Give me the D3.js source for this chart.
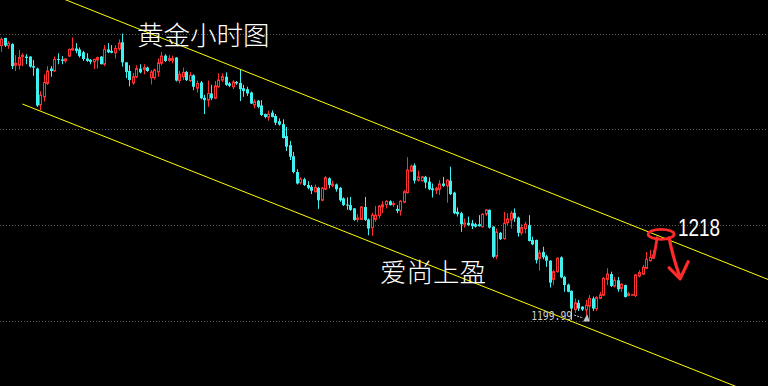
<!DOCTYPE html>
<html>
<head>
<meta charset="utf-8">
<script src="https://cdnjs.cloudflare.com/ajax/libs/d3/7.8.5/d3.min.js"></script>
<style>
  html, body { margin: 0; padding: 0; background: #000; }
  svg { display: block; }
</style>
</head>
<body>
<div id="chart"></div>
<script>
// hourly gold candles
var opens = [
  1257.5,1259.1,1257.5,1257.8,1253.4,1253.4,1255.2,1255.2,1255.2,1253.2,
  1252.7,1245.1,1246.8,1249.6,1252.7,1252.2,1254.7,1254.6,1254.3,1255.3,
  1256.6,1256.9,1256.7,1256.1,1254.8,1254.5,1254.1,1254.5,1255.2,1253.6,
  1256.7,1256.4,1256.0,1256.8,1258.2,1254.0,1252.2,1249.7,1251.0,1252.7,
  1252.5,1252.9,1250.8,1250.8,1252.0,1253.8,1255.4,1254.4,1254.4,1255.0,
  1250.2,1251.0,1252.0,1250.2,1251.3,1248.6,1249.8,1246.6,1246.1,1247.5,
  1246.5,1248.9,1250.3,1251.0,1249.6,1248.9,1249.9,1249.7,1248.6,1248.4,
  1247.7,1245.1,1246.0,1245.0,1243.2,1242.6,1243.5,1242.8,1241.7,1241.1,
  1238.6,1236.7,1234.4,1231.1,1228.9,1229.6,1228.4,1228.0,1227.0,1227.8,
  1225.2,1227.5,1229.8,1228.3,1228.5,1227.8,1225.6,1224.3,1224.2,1223.5,
  1221.2,1221.2,1223.8,1221.2,1219.5,1221.2,1222.0,1223.8,1224.3,1225.0,
  1224.3,1223.4,1223.0,1224.8,1226.8,1231.3,1232.5,1229.4,1229.3,1230.1,
  1229.1,1227.7,1227.3,1227.5,1228.7,1228.2,1229.3,1226.8,1222.8,1222.5,
  1220.2,1220.5,1220.4,1220.2,1220.2,1219.7,1222.3,1223.2,1219.7,1213.5,
  1218.4,1217.2,1220.5,1221.1,1222.6,1221.6,1218.4,1219.3,1220.0,1216.9,
  1216.9,1213.1,1214.4,1213.5,1212.6,1208.7,1210.3,1213.3,1209.2,1207.6,
  1206.3,1202.4,1203.8,1203.0,1202.3,1203.1,1204.7,1202.6,1204.7,1205.4,
  1208.7,1209.8,1207.3,1208.5,1206.8,1207.5,1205.3,1205.4,1205.3,1209.4,
  1209.8,1211.0,1212.6,1213.1
];
var highs = [
  1259.2,1259.1,1258.4,1258.0,1255.5,1256.6,1255.9,1255.7,1255.3,1254.5,
  1252.9,1248.0,1251.5,1253.2,1253.2,1255.2,1255.9,1255.3,1254.9,1256.9,
  1259.2,1258.0,1257.1,1256.4,1255.9,1254.7,1254.8,1255.2,1255.3,1257.6,
  1258.0,1257.6,1257.6,1258.8,1260.0,1254.0,1253.4,1251.8,1253.4,1253.6,
  1253.6,1253.1,1252.4,1252.7,1254.8,1256.2,1255.7,1255.5,1255.4,1255.1,
  1252.2,1252.9,1252.2,1252.0,1251.5,1250.2,1250.1,1247.2,1250.2,1249.3,
  1250.1,1251.7,1251.7,1251.9,1249.9,1250.3,1250.1,1252.4,1249.3,1248.9,
  1247.9,1246.3,1246.1,1246.1,1243.3,1243.9,1244.0,1243.2,1242.3,1242.1,
  1240.5,1237.6,1235.3,1231.7,1230.0,1229.9,1229.2,1228.4,1228.5,1228.0,
  1228.0,1230.3,1230.0,1229.3,1228.7,1228.0,1225.8,1225.8,1225.9,1223.6,
  1222.3,1224.0,1225.9,1221.4,1222.6,1224.0,1224.2,1225.0,1225.2,1225.2,
  1225.0,1224.2,1225.2,1227.3,1234.2,1232.7,1232.9,1231.4,1230.3,1230.3,
  1230.0,1228.7,1228.0,1229.4,1230.1,1229.6,1232.2,1227.0,1223.7,1222.8,
  1221.4,1221.8,1221.1,1220.5,1222.1,1222.5,1223.3,1223.3,1219.8,1219.3,
  1218.6,1222.8,1222.5,1223.0,1223.5,1221.8,1220.2,1220.7,1222.1,1217.6,
  1217.0,1214.8,1215.5,1213.8,1212.7,1210.6,1213.3,1213.5,1209.4,1207.8,
  1206.4,1204.7,1204.4,1203.1,1204.4,1205.4,1205.1,1205.2,1206.1,1209.2,
  1211.0,1210.3,1209.2,1209.2,1207.8,1207.6,1206.1,1205.6,1209.8,1210.6,
  1211.7,1214.4,1214.8,1214.8
];
var lows = [
  1256.2,1257.2,1256.8,1252.6,1252.2,1252.5,1253.2,1253.6,1252.9,1251.2,
  1244.7,1244.0,1245.8,1249.3,1251.0,1252.0,1253.6,1253.6,1253.9,1255.2,
  1256.4,1255.9,1255.0,1254.3,1254.1,1253.6,1252.6,1252.7,1253.6,1253.2,
  1255.9,1255.9,1254.8,1256.4,1253.1,1250.7,1249.0,1249.3,1250.7,1251.7,
  1251.5,1252.0,1249.4,1250.4,1251.0,1253.4,1254.1,1254.1,1253.8,1250.0,
  1249.6,1250.3,1250.1,1249.9,1248.2,1247.7,1246.3,1243.2,1244.7,1246.1,
  1246.3,1248.7,1249.9,1249.1,1248.8,1248.4,1249.3,1245.9,1246.8,1247.0,
  1245.3,1244.4,1244.4,1242.8,1242.3,1241.8,1242.5,1240.9,1240.8,1238.1,
  1235.5,1233.6,1230.8,1228.5,1228.5,1228.2,1227.5,1226.5,1226.8,1223.4,
  1225.0,1227.3,1227.7,1227.9,1227.0,1224.9,1224.0,1223.2,1223.0,1220.9,
  1220.6,1221.1,1220.9,1217.9,1217.8,1220.7,1221.4,1222.5,1223.5,1224.1,
  1223.8,1222.5,1222.0,1224.6,1226.6,1231.1,1228.7,1229.1,1229.1,1227.7,
  1227.3,1225.8,1226.5,1226.3,1228.0,1224.7,1226.3,1222.3,1221.8,1218.6,
  1219.5,1219.8,1219.2,1219.5,1219.7,1219.5,1221.9,1219.3,1213.1,1212.9,
  1216.9,1217.0,1220.0,1219.3,1220.7,1217.6,1217.9,1218.3,1216.6,1215.8,
  1212.0,1210.5,1212.9,1211.3,1207.0,1207.5,1210.1,1208.9,1206.1,1206.0,
  1200.2,1201.7,1202.1,1202.1,1201.2,1199.99,1202.1,1202.1,1204.6,1205.2,
  1207.5,1207.1,1207.0,1206.1,1206.1,1204.9,1205.2,1205.3,1205.0,1209.1,
  1209.6,1210.8,1212.4,1212.9
];
var closes = [
  1258.8,1257.5,1258.0,1253.2,1253.8,1255.0,1255.5,1254.9,1253.1,1252.9,
  1245.0,1247.2,1249.8,1252.2,1252.2,1254.6,1254.5,1254.3,1254.7,1256.7,
  1256.9,1256.4,1255.3,1254.7,1254.3,1254.1,1254.6,1255.0,1253.6,1256.7,
  1256.1,1256.0,1256.9,1258.0,1254.0,1252.0,1250.3,1251.0,1252.7,1251.9,
  1252.9,1252.2,1252.0,1252.4,1253.9,1255.3,1254.3,1254.8,1254.8,1250.2,
  1251.5,1251.9,1250.3,1251.3,1248.9,1249.6,1246.5,1246.1,1247.5,1246.5,
  1249.1,1250.3,1251.0,1249.3,1249.1,1249.9,1249.6,1248.4,1248.0,1247.5,
  1245.4,1245.8,1244.7,1243.0,1242.6,1243.2,1242.6,1241.4,1241.0,1238.2,
  1236.4,1234.3,1231.1,1228.7,1229.6,1228.4,1227.8,1227.2,1227.9,1225.2,
  1227.7,1229.9,1228.4,1228.6,1227.5,1225.2,1224.2,1224.1,1223.2,1221.1,
  1221.5,1223.8,1221.1,1219.3,1222.1,1222.1,1224.0,1224.3,1225.0,1224.2,
  1224.5,1223.0,1225.0,1227.0,1231.5,1232.3,1229.3,1230.1,1230.1,1228.9,
  1227.5,1227.3,1227.7,1228.6,1228.2,1229.4,1226.5,1222.5,1222.3,1220.2,
  1220.5,1220.0,1219.8,1219.7,1219.8,1222.3,1223.2,1219.5,1213.4,1218.6,
  1217.1,1220.4,1221.3,1222.5,1221.4,1218.4,1219.5,1220.2,1216.7,1216.0,
  1212.7,1214.2,1213.3,1212.6,1208.0,1210.3,1213.1,1209.1,1207.5,1206.1,
  1202.6,1203.8,1202.6,1202.4,1203.3,1204.7,1202.6,1204.9,1205.5,1208.9,
  1209.8,1207.3,1208.5,1206.6,1207.7,1205.0,1205.7,1205.5,1209.6,1210.1,
  1211.2,1212.9,1213.3,1213.8
];

var gridPrices = [1200, 1220, 1240, 1260];

// channel lines as [candle index, price] anchors
var upperLine = [[20, 1266.5], [180, 1219.1]];
var lowerLine = [[6, 1245.3], [170, 1197.0]];

var chartTitle = '黄金小时图';
var signature  = '爱尚上盈';
var targetText = '1218';
var lowText    = '1199.99';

var width  = 768,
    height = 386;

var candles = opens.map(function(o, i){
    return { i: i, open: o, high: highs[i], low: lows[i], close: closes[i] };
});

var x = d3.scaleLinear().domain([0, candles.length - 1]).range([1, 653.3]);
var y = d3.scaleLinear().domain([1200, 1260]).range([321, 33.6]);

var upColor   = '#ff3030',
    downColor = '#3ff2f2';

var svg = d3.select('#chart').append('svg')
    .attr('width', width)
    .attr('height', height);

svg.append('rect')
    .attr('width', width)
    .attr('height', height)
    .attr('fill', '#000');

// dotted price grid
svg.selectAll('line.grid')
    .data(gridPrices)
    .enter().append('line')
    .attr('class', 'grid')
    .attr('x1', 0)
    .attr('x2', width)
    .attr('y1', function(d){ return Math.round(y(d)) + 0.5; })
    .attr('y2', function(d){ return Math.round(y(d)) + 0.5; })
    .attr('stroke', '#5a5a5a')
    .attr('stroke-dasharray', '1,2');

// candles
var cx = function(d){ return Math.round(x(d.i)) + 0.5; };

var g = svg.append('g').attr('class', 'candles');

g.selectAll('line.wick')
    .data(candles)
    .enter().append('line')
    .attr('class', 'wick')
    .attr('x1', cx)
    .attr('x2', cx)
    .attr('y1', function(d){ return y(d.high); })
    .attr('y2', function(d){ return y(d.low); })
    .attr('stroke', function(d){ return d.close >= d.open ? upColor : downColor; })
    .attr('stroke-width', 1);

// bearish bodies: filled cyan
g.selectAll('rect.down')
    .data(candles.filter(function(d){ return d.close < d.open; }))
    .enter().append('rect')
    .attr('class', 'down')
    .attr('x', function(d){ return cx(d) - 1.5; })
    .attr('width', 3)
    .attr('y', function(d){ return y(d.open); })
    .attr('height', function(d){ return Math.max(1, y(d.close) - y(d.open)); })
    .attr('fill', downColor);

// bullish bodies: red outline, black inside
g.selectAll('rect.up')
    .data(candles.filter(function(d){ return d.close >= d.open; }))
    .enter().append('rect')
    .attr('class', 'up')
    .attr('x', function(d){ return cx(d) - 1; })
    .attr('width', 2)
    .attr('y', function(d){ return y(d.close); })
    .attr('height', function(d){ return Math.max(0.5, y(d.open) - y(d.close)); })
    .attr('fill', '#000')
    .attr('stroke', upColor)
    .attr('stroke-width', 1);

// channel lines, stretched past the edges
function channel(pts, fromIdx, toIdx){
    var slope = (pts[1][1] - pts[0][1]) / (pts[1][0] - pts[0][0]);
    var p = function(i){ return pts[0][1] + slope * (i - pts[0][0]); };
    svg.append('line')
        .attr('x1', x(fromIdx)).attr('y1', y(p(fromIdx)))
        .attr('x2', x(toIdx)).attr('y2', y(p(toIdx)))
        .attr('stroke', '#ffff00')
        .attr('stroke-width', 1);
}
channel(upperLine, -20, 230);
channel(lowerLine, 6, 230);

// low marker
var lowIdx = d3.minIndex(lows);
var lx = x(lowIdx), ly = y(lows[lowIdx]);

svg.append('text')
    .attr('x', lx - 58)
    .attr('y', ly - 1.5)
    .attr('fill', '#cfcfcf')
    .attr('font-family', 'DejaVu Sans Mono, monospace')
    .attr('font-size', 13)
    .attr('textLength', 41)
    .attr('lengthAdjust', 'spacingAndGlyphs')
    .text(lowText);

svg.append('line')
    .attr('x1', lx - 15).attr('y1', ly - 6)
    .attr('x2', lx - 6).attr('y2', ly - 3)
    .attr('stroke', '#c4c4c4')
    .attr('stroke-dasharray', '2,1');

svg.append('path')
    .attr('d', 'M' + (lx - 6) + ',' + (ly + 0.5) + 'L' + (lx - 2) + ',' + (ly - 7) + 'L' + (lx + 0.5) + ',' + (ly + 0.5) + 'Z')
    .attr('fill', '#c4c4c4');

// titles
svg.append('text')
    .attr('x', 137)
    .attr('y', 44.5)
    .attr('fill', '#ffffff')
    .attr('font-family', 'Noto Sans CJK SC, sans-serif')
    .attr('font-weight', 300)
    .attr('font-size', 26.5)
    .text(chartTitle);

svg.append('text')
    .attr('x', 380)
    .attr('y', 281.5)
    .attr('fill', '#ffffff')
    .attr('font-family', 'Noto Sans CJK SC, sans-serif')
    .attr('font-weight', 300)
    .attr('font-size', 26.5)
    .text(signature);

// hand drawn target mark at the top of the channel
var tx = x(185.2), ty = y(1218);

svg.append('ellipse')
    .attr('cx', tx)
    .attr('cy', ty - 0.5)
    .attr('rx', 13)
    .attr('ry', 5)
    .attr('fill', 'none')
    .attr('stroke', '#ff2a2a')
    .attr('stroke-width', 2.8);

svg.append('path')
    .attr('d', 'M' + (tx - 4) + ',' + (ty + 3) + 'L' + (tx - 7) + ',' + (ty + 21))
    .attr('fill', 'none')
    .attr('stroke', '#ff2a2a')
    .attr('stroke-width', 2.8)
    .attr('stroke-linecap', 'round');

svg.append('path')
    .attr('d', 'M' + (tx + 8) + ',' + (ty + 3) +
               'Q' + (tx + 11) + ',' + (ty + 20) + ' ' + (tx + 19) + ',' + (ty + 43) +
               'M' + (tx + 8) + ',' + (ty + 33) +
               'L' + (tx + 19) + ',' + (ty + 44) +
               'L' + (tx + 27) + ',' + (ty + 27))
    .attr('fill', 'none')
    .attr('stroke', '#ff2a2a')
    .attr('stroke-width', 3.2)
    .attr('stroke-linecap', 'round')
    .attr('stroke-linejoin', 'round');

svg.append('text')
    .attr('x', 678)
    .attr('y', 236)
    .attr('fill', '#ffffff')
    .attr('font-family', 'Liberation Sans, Arial, sans-serif')
    .attr('font-size', 24)
    .attr('textLength', 42)
    .attr('lengthAdjust', 'spacingAndGlyphs')
    .text(targetText);
</script>
</body>
</html>
